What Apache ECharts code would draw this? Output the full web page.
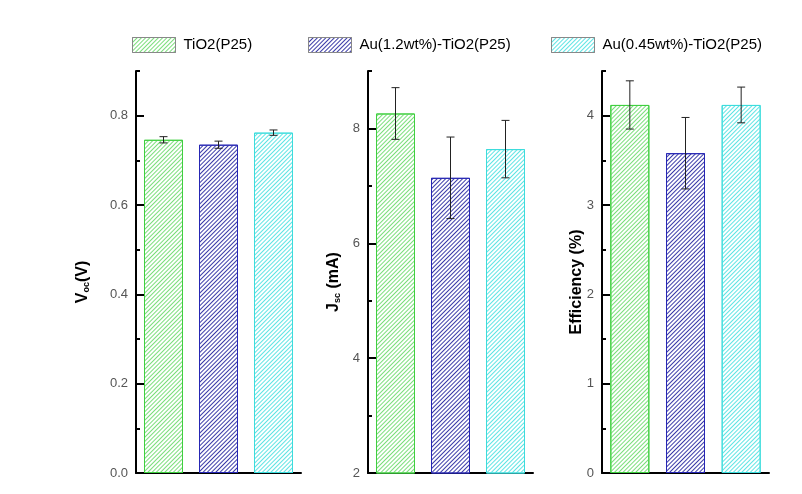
<!DOCTYPE html>
<html>
<head>
<meta charset="utf-8">
<script src="https://cdn.jsdelivr.net/npm/echarts@6/dist/echarts.min.js"></script>
<style>html,body{margin:0;padding:0;background:#fff;}#c{width:802px;height:494px;}</style>
</head>
<body>
<div id="c"></div>
<script>
const categories = ['TiO2(P25)', 'Au(1.2wt%)-TiO2(P25)', 'Au(0.45wt%)-TiO2(P25)'];
const vocValues = [0.746, 0.735, 0.762];
const vocErrors = [0.007, 0.008, 0.006];
const jscValues = [8.26, 7.14, 7.64];
const jscErrors = [0.45, 0.71, 0.50];
const effValues = [4.12, 3.58, 4.12];
const effErrors = [0.27, 0.40, 0.20];
const vocTicks = { min: 0, max: 0.9, major: 0.2, minor: 0.1 };
const jscTicks = { min: 2, max: 9, major: 2, minor: 1 };
const effTicks = { min: 0, max: 4.5, major: 1, minor: 0.5 };

const styles = [
  { border: '#3fcf3f', hatch: '#7ade7a' },
  { border: '#2626b4', hatch: '#3a3aa8' },
  { border: '#3cdcdc', hatch: '#5ee4e4' }
];

const panels = [
  { values: vocValues, errors: vocErrors, ticks: vocTicks, left: 136, width: 165, gap: 45,
    name: '{b|V}{s|oc}{b|(V)}', fmt: v => v.toFixed(1) },
  { values: jscValues, errors: jscErrors, ticks: jscTicks, left: 368, width: 165, gap: 26,
    name: '{b|J}{s|sc}{b| (mA)}', fmt: v => String(v) },
  { values: effValues, errors: effErrors, ticks: effTicks, left: 602, width: 167, gap: 17,
    name: '{b|Efficiency (%)}', fmt: v => String(v) }
];

function decalFor(i) {
  return { symbol: 'rect', symbolSize: 1, dashArrayX: [1, 0], dashArrayY: [1, 1.5],
           rotation: -Math.PI / 4, color: styles[i].hatch };
}

const grid = [], xAxis = [], yAxis = [], series = [];
panels.forEach((p, k) => {
  grid.push({ left: p.left, width: p.width, top: 71, bottom: 21 });
  xAxis.push({ type: 'category', gridIndex: k, data: categories, boundaryGap: true,
    axisLine: { lineStyle: { color: '#000', width: 2 } }, axisTick: { show: false },
    axisLabel: { show: false } });
  yAxis.push({ type: 'value', gridIndex: k, position: 'left', min: p.ticks.min, max: p.ticks.max, interval: p.ticks.major,
    name: p.name, nameLocation: 'middle', nameGap: p.gap, nameRotate: 90, nameMoveOverlap: false,
    nameTextStyle: { padding: [0, 20, 0, 0], rich: {
      b: { fontFamily: 'Liberation Sans', fontWeight: 'bold', fontSize: 16, color: '#000' },
      s: { fontFamily: 'Liberation Sans', fontWeight: 'bold', fontSize: 9, color: '#000', verticalAlign: 'bottom', padding: [7, 0, 0, 0] }
    } },
    axisLine: { show: true, lineStyle: { color: '#000', width: 2 } },
    axisTick: { show: true, inside: true, length: 8, lineStyle: { color: '#000', width: 2 } },
    axisLabel: { showMaxLabel: false, margin: 8, color: '#555', fontSize: 13, fontFamily: 'Liberation Sans',
      formatter: p.fmt },
    splitLine: { show: false } });
  yAxis.push({ type: 'value', gridIndex: k, position: 'left', offset: 0, min: p.ticks.min, max: p.ticks.max, interval: p.ticks.minor,
    axisLine: { show: false }, axisLabel: { show: false }, splitLine: { show: false },
    axisTick: { show: true, inside: true, length: 4, lineStyle: { color: '#000', width: 2 } } });
  const yIdx = k * 2;
  categories.forEach((c, i) => {
    series.push({ type: 'bar', name: c, xAxisIndex: k, yAxisIndex: yIdx, barWidth: 39, barGap: '-100%',
      data: p.values.map((v, j) => j === i ? v : '-'),
      itemStyle: { color: '#ffffff', borderColor: styles[i].border, borderWidth: 1, decal: decalFor(i) },
      emphasis: { disabled: true } });
  });
  series.push({ type: 'custom', xAxisIndex: k, yAxisIndex: yIdx, z: 10,
    data: p.values.map((v, j) => [j, v - p.errors[j], v + p.errors[j]]),
    encode: { x: 0, y: [1, 2] },
    renderItem: function (params, api) {
      const x = api.value(0);
      const lo = api.coord([x, api.value(1)]);
      const hi = api.coord([x, api.value(2)]);
      const w = 4;
      const st = { stroke: '#222', lineWidth: 1 };
      return { type: 'group', children: [
        { type: 'line', shape: { x1: hi[0], y1: hi[1], x2: lo[0], y2: lo[1] }, style: st },
        { type: 'line', shape: { x1: hi[0] - w, y1: hi[1], x2: hi[0] + w, y2: hi[1] }, style: st },
        { type: 'line', shape: { x1: lo[0] - w, y1: lo[1], x2: lo[0] + w, y2: lo[1] }, style: st }
      ] };
    } });
});

const legendLefts = [127, 303, 546];
const legend = categories.map((c, i) => ({
  data: [c], left: legendLefts[i], top: 32, icon: 'rect', itemWidth: 43, itemHeight: 15,
  selectedMode: false,
  itemStyle: { borderColor: '#888', borderWidth: 1 },
  textStyle: { fontFamily: 'Liberation Sans', fontSize: 15, color: '#000', padding: [0, 0, 0, 3] }
}));

const chart = echarts.init(document.getElementById('c'), null, { renderer: 'canvas' });
chart.setOption({ animation: false, backgroundColor: '#fff', legend, grid, xAxis, yAxis, series });
</script>
</body>
</html>
